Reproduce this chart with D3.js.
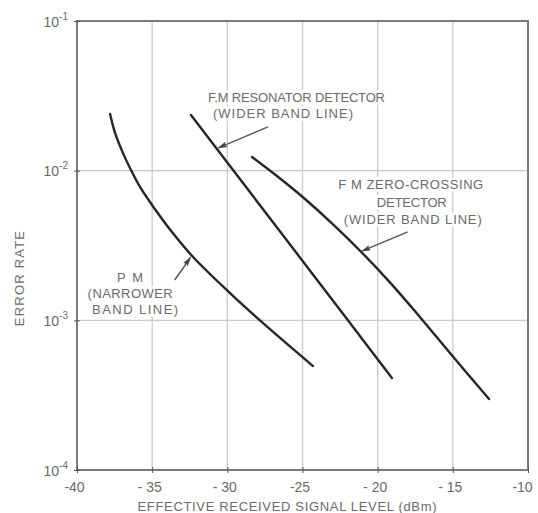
<!DOCTYPE html>
<html><head><meta charset="utf-8">
<script src="https://cdn.jsdelivr.net/npm/d3@7/dist/d3.min.js"></script>
<style>
body{margin:0;background:#fff;}
text{font-family:"Liberation Sans","DejaVu Sans",sans-serif;fill:#6a6a6a;}
</style></head><body>
<svg id="c" width="538" height="513"></svg>
<script>
// ---- data ----
const xTicks = [-40, -35, -30, -25, -20, -15, -10];
const xTickLabels = ["-40", "- 35", "- 30", "-25", "- 20", "- 15", "-10"];
const yTicks = [1e-4, 1e-3, 1e-2, 1e-1];
const yExponents = ["-4", "-3", "-2", "-1"];

const pmX  = [-37.80, -37.47, -36.94, -36.41, -35.81, -35.01, -33.68, -32.28, -29.82, -27.83, -24.30];
const pmY  = [0.0239, 0.0179, 0.0131, 0.0101, 0.00778, 0.00590, 0.00389, 0.00265, 0.00152, 0.00100, 0.000495];
const resX = [-32.42, -29.62, -25.83, -22.04, -19.05];
const resY = [0.02355, 0.0101, 0.00321, 0.00102, 0.000412];
const zcX  = [-28.36, -26.70, -24.97, -22.97, -21.04, -19.11, -17.18, -15.05, -12.59];
const zcY  = [0.01234, 0.00921, 0.00664, 0.00438, 0.00283, 0.00176, 0.00105, 0.000582, 0.000298];

const resLabel = ["F.M RESONATOR DETECTOR", "(WIDER BAND LINE)"];
const zcLabel  = ["F M ZERO-CROSSING", "DETECTOR", "(WIDER BAND LINE)"];
const pmLabel  = ["P M", "(NARROWER", "BAND LINE)"];

// annotation anchors (data space)
const resAnn = {tx: -25.4, ty: 0.0288, ax: -27.3, ay: 0.0196, px: -30.6, py: 0.0142};
const zcAnn  = {tx: -17.8, ty: 0.0075, ax: -18.0, ay: 0.0039, px: -21.05, py: 0.0029};
const pmAnn  = {tx: -36.4, ty: 0.0018, ax: -33.5, ay: 0.00186, px: -32.45, py: 0.00263};

// ---- layout ----
const svg = d3.select("#c");
const L = 77, R = 528, T = 21, B = 470;
const x = d3.scaleLinear().domain([-40, -10]).range([L, R]);
const y = d3.scaleLog().domain([1e-4, 1e-1]).range([B, T]);

// grid
const g = svg.append("g");
g.selectAll("line.vg").data(xTicks).join("line")
  .attr("x1", d => x(d)).attr("x2", d => x(d)).attr("y1", T).attr("y2", B)
  .attr("stroke", "#cacaca").attr("stroke-width", 1.3);
g.selectAll("line.hg").data(yTicks).join("line")
  .attr("y1", d => y(d)).attr("y2", d => y(d)).attr("x1", L).attr("x2", R)
  .attr("stroke", "#cacaca").attr("stroke-width", 1.3);

// border
svg.append("rect").attr("x", L).attr("y", T).attr("width", R - L).attr("height", B - T)
  .attr("fill", "none").attr("stroke", "#7a7a7a").attr("stroke-width", 2);

// axes
const xAxis = d3.axisBottom(x).tickValues(xTicks).tickSize(4)
  .tickFormat((d, i) => xTickLabels[i]);
const xg = svg.append("g").attr("transform", `translate(0,${B})`).call(xAxis);
xg.select(".domain").remove();
xg.selectAll(".tick line").attr("stroke", "#555").attr("y1", -3).attr("y2", 3);
xg.selectAll(".tick text").attr("fill", "#6a6a6a").attr("font-size", 14)
  .attr("dy", "1.05em").attr("dx", (d, i) => i === xTicks.length - 1 ? -6 : -3)
  .style("font-family", "Liberation Sans, sans-serif");

const yAxis = d3.axisLeft(y).tickValues(yTicks).tickSize(4).tickFormat("");
const yg = svg.append("g").attr("transform", `translate(${L},0)`).call(yAxis);
yg.select(".domain").remove();
yg.selectAll(".tick line").attr("stroke", "#555").attr("x1", -3).attr("x2", 3);
yg.selectAll(".tick").each(function(d, i) {
  const t = d3.select(this).append("text").attr("x", -9).attr("y", 5)
    .attr("text-anchor", "end").attr("font-size", 14);
  t.append("tspan").text("10");
  t.append("tspan").attr("dy", -7).attr("font-size", 10).text(yExponents[i]);
});

// axis titles
svg.append("text").attr("x", 287).attr("y", 511).attr("text-anchor", "middle")
  .attr("font-size", 13).attr("textLength", 299).attr("lengthAdjust", "spacing")
  .text("EFFECTIVE RECEIVED SIGNAL LEVEL (dBm)");
svg.append("text").attr("transform", "translate(24,278) rotate(-90)").attr("text-anchor", "middle")
  .attr("font-size", 13).attr("letter-spacing", 1.2).text("ERROR RATE");

// curves
const line = d3.line().x(d => x(d[0])).y(d => y(d[1])).curve(d3.curveCatmullRom.alpha(0.5));
const series = [d3.zip(pmX, pmY), d3.zip(resX, resY), d3.zip(zcX, zcY)];
svg.selectAll("path.curve").data(series).join("path")
  .attr("d", line).attr("fill", "none").attr("stroke", "#262626").attr("stroke-width", 2.4)
  .attr("stroke-linecap", "round");

// labels: white backing halo drawn separately (grid gaps), then text on top
function label(lines, cx, cy, lh, xoffs, widths) {
  lines.forEach((s, i) => {
    [true, false].forEach(halo => {
      const t = svg.append("text").attr("x", x(cx) + xoffs[i]).attr("y", y(cy) + i * lh)
        .attr("text-anchor", "middle").attr("font-size", 13)
        .attr("textLength", widths[i]).attr("lengthAdjust", "spacing")
        .text(s);
      if (halo) t.attr("fill", "#fff").attr("stroke", "#fff").attr("stroke-width", 5);
    });
  });
}
label(resLabel, resAnn.tx, resAnn.ty, 16.5, [0, -13.5], [177, 140]);
label(zcLabel, zcAnn.tx, zcAnn.ty, 17.5, [0, 1, 2], [145, 70, 138]);
label(pmLabel, pmAnn.tx, pmAnn.ty, 16, [-1, -1, 4], [26, 85, 86]);

// arrows
const defs = svg.append("defs");
defs.append("marker").attr("id", "ah").attr("viewBox", "0 0 12 10").attr("refX", 11).attr("refY", 5)
  .attr("markerWidth", 11).attr("markerHeight", 8).attr("markerUnits", "userSpaceOnUse")
  .attr("orient", "auto").append("path").attr("d", "M0,1.5 L12,5 L0,8.5 L2,5 Z").attr("fill", "#444");
[resAnn, zcAnn, pmAnn].forEach(a => {
  svg.append("line").attr("x1", x(a.ax)).attr("y1", y(a.ay)).attr("x2", x(a.px)).attr("y2", y(a.py))
    .attr("stroke", "#555").attr("stroke-width", 1.4).attr("marker-end", "url(#ah)");
});
</script></body></html>
